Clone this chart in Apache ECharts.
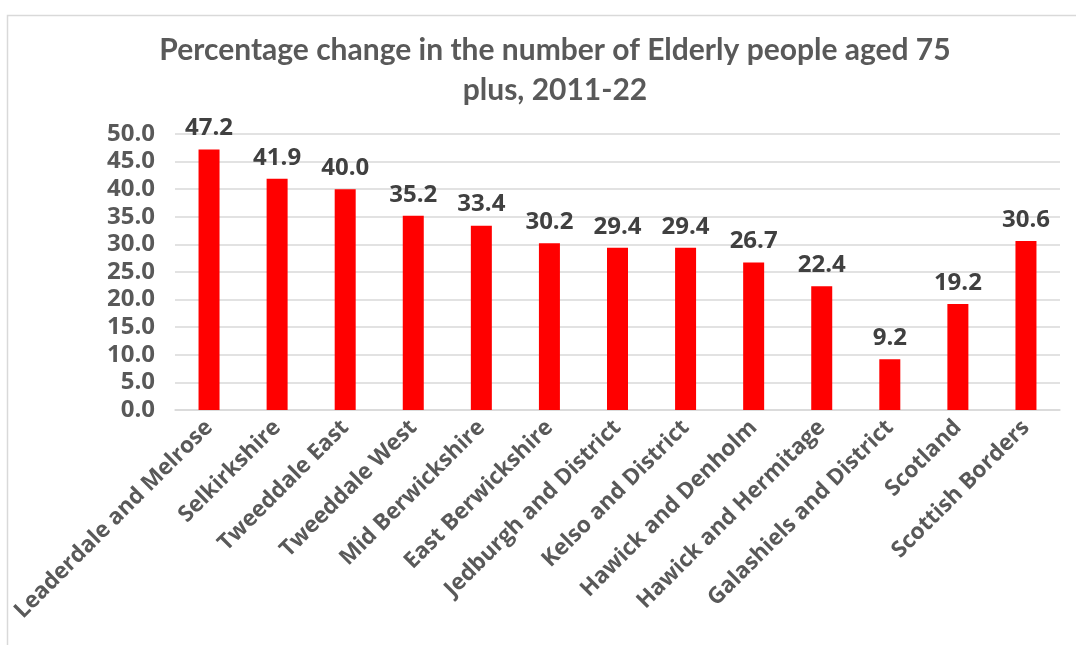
<!DOCTYPE html>
<html>
<head>
<meta charset="utf-8">
<script src="https://cdn.jsdelivr.net/npm/echarts@6/dist/echarts.min.js"></script>
<style>
html,body{margin:0;padding:0;background:#fff;}
#chart{width:1076px;height:645px;}
</style>
</head>
<body>
<div id="chart"></div>
<script>
const titleText = 'Percentage change in the number of Elderly people aged 75\nplus, 2011-22';
const categories = ['Leaderdale and Melrose','Selkirkshire','Tweeddale East','Tweeddale West','Mid Berwickshire','East Berwickshire','Jedburgh and District','Kelso and District','Hawick and Denholm','Hawick and Hermitage','Galashiels and District','Scotland','Scottish Borders'];
const values = [47.2, 41.9, 40.0, 35.2, 33.4, 30.2, 29.4, 29.4, 26.7, 22.4, 9.2, 19.2, 30.6];

const OS = "'Open Sans', sans-serif";
const chart = echarts.init(document.getElementById('chart'), null, {renderer:'canvas'});
chart.setOption({
  backgroundColor:'#fff',
  animation:false,
  graphic:[{
    type:'rect', left:5, top:13,
    shape:{x:0,y:0,width:1100,height:700},
    style:{fill:'none', stroke:'#d9d9d9', lineWidth:1.5},
    silent:true
  }],
  title:{
    text:titleText,
    left:550, textAlign:'center', top:25,
    textStyle:{fontFamily:"Lato, sans-serif", fontWeight:'bold', fontSize:30, color:'#595959', lineHeight:40}
  },
  grid:{left:175, right:16, top:134, bottom:235, containLabel:false},
  xAxis:{
    type:'category', data:categories,
    axisLine:{lineStyle:{color:'#d9d9d9', width:1.5}},
    axisTick:{show:false},
    axisLabel:{rotate:45, interval:0, margin:14, fontFamily:OS, fontWeight:'bold', fontSize:22.5, color:'#595959'}
  },
  yAxis:{
    type:'value', min:0, max:50, interval:5,
    axisLine:{show:false}, axisTick:{show:false},
    splitLine:{lineStyle:{color:'#d9d9d9', width:1.5}},
    axisLabel:{formatter:v=>v.toFixed(1), margin:20, fontFamily:OS, fontWeight:'bold', fontSize:24, color:'#595959'}
  },
  series:[{
    type:'bar', data:values, barWidth:21,
    itemStyle:{color:'#ff0000'},
    label:{show:true, position:'top', distance:9, formatter:p=>p.value.toFixed(1), fontFamily:OS, fontWeight:'bold', fontSize:24, color:'#404040'}
  }]
});
</script>
</body>
</html>
